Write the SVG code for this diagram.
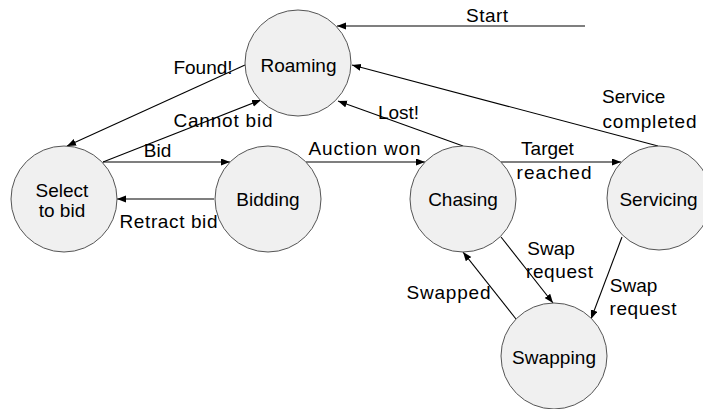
<svg xmlns="http://www.w3.org/2000/svg" width="703" height="409" viewBox="0 0 703 409">
<style>
.node{fill:#f0f0f0;stroke:#555;stroke-width:1}
.t{font-family:"Liberation Sans",Arial,sans-serif;font-size:19px;fill:#000;text-anchor:middle}
.e{stroke:#000;stroke-width:1.1;fill:none;marker-end:url(#ah)}
</style>
<defs>
<marker id="ah" markerUnits="userSpaceOnUse" markerWidth="10" markerHeight="8" refX="9" refY="3.5" orient="auto">
<path d="M0,0 L9,3.5 L0,7 z" fill="#000"/>
</marker>
</defs>
<rect width="703" height="409" fill="#fff"/>
<g id="connectors">
<line class="e" x1="585" y1="26" x2="337" y2="26"/>
<line class="e" x1="245" y1="65" x2="67" y2="146"/>
<line class="e" x1="103" y1="162" x2="261" y2="100"/>
<line class="e" x1="103" y1="162" x2="230" y2="162"/>
<line class="e" x1="214" y1="199" x2="117" y2="199"/>
<line class="e" x1="306" y1="162" x2="425" y2="162"/>
<line class="e" x1="501" y1="162" x2="621" y2="162"/>
<line class="e" x1="463" y1="146" x2="338" y2="101"/>
<line class="e" x1="658" y1="146" x2="352" y2="65"/>
<line class="e" x1="501" y1="237" x2="553" y2="303"/>
<line class="e" x1="516" y1="319" x2="463" y2="252"/>
<line class="e" x1="622" y1="237" x2="591" y2="319"/>
</g>
<g id="labels">
<text class="t" x="487" y="22" textLength="42">Start</text>
<text class="t" x="203" y="74">Found!</text>
<text class="t" x="223" y="127" textLength="99">Cannot bid</text>
<text class="t" x="157.5" y="157">Bid</text>
<text class="t" x="168.5" y="228" textLength="98">Retract bid</text>
<text class="t" x="364.5" y="155" textLength="112">Auction won</text>
<text class="t" x="547.5" y="155">Target</text>
<text class="t" x="554" y="179" textLength="75">reached</text>
<text class="t" x="398.5" y="119">Lost!</text>
<text class="t" x="602" y="103" style="text-anchor:start">Service</text>
<text class="t" x="649.5" y="128" textLength="94">completed</text>
<text class="t" x="551" y="255">Swap</text>
<text class="t" x="559.5" y="278" textLength="67">request</text>
<text class="t" x="448.5" y="299" textLength="84">Swapped</text>
<text class="t" x="633.5" y="292">Swap</text>
<text class="t" x="643" y="315" textLength="67">request</text>
</g>
<g id="roaming"><circle class="node" cx="298" cy="63" r="53"/><text class="t" x="298.5" y="72">Roaming</text></g>
<g id="select"><circle class="node" cx="64" cy="199" r="53"/><text class="t" x="62" y="197">Select</text><text class="t" x="62" y="217">to bid</text></g>
<g id="bidding"><circle class="node" cx="268" cy="199" r="53"/><text class="t" x="268" y="206">Bidding</text></g>
<g id="chasing"><circle class="node" cx="463" cy="199" r="53"/><text class="t" x="463" y="206">Chasing</text></g>
<g id="servicing"><circle class="node" cx="659" cy="198" r="52"/><text class="t" x="658.5" y="206">Servicing</text></g>
<g id="swapping"><circle class="node" cx="554" cy="356" r="53"/><text class="t" x="554" y="364" textLength="84">Swapping</text></g>
</svg>
